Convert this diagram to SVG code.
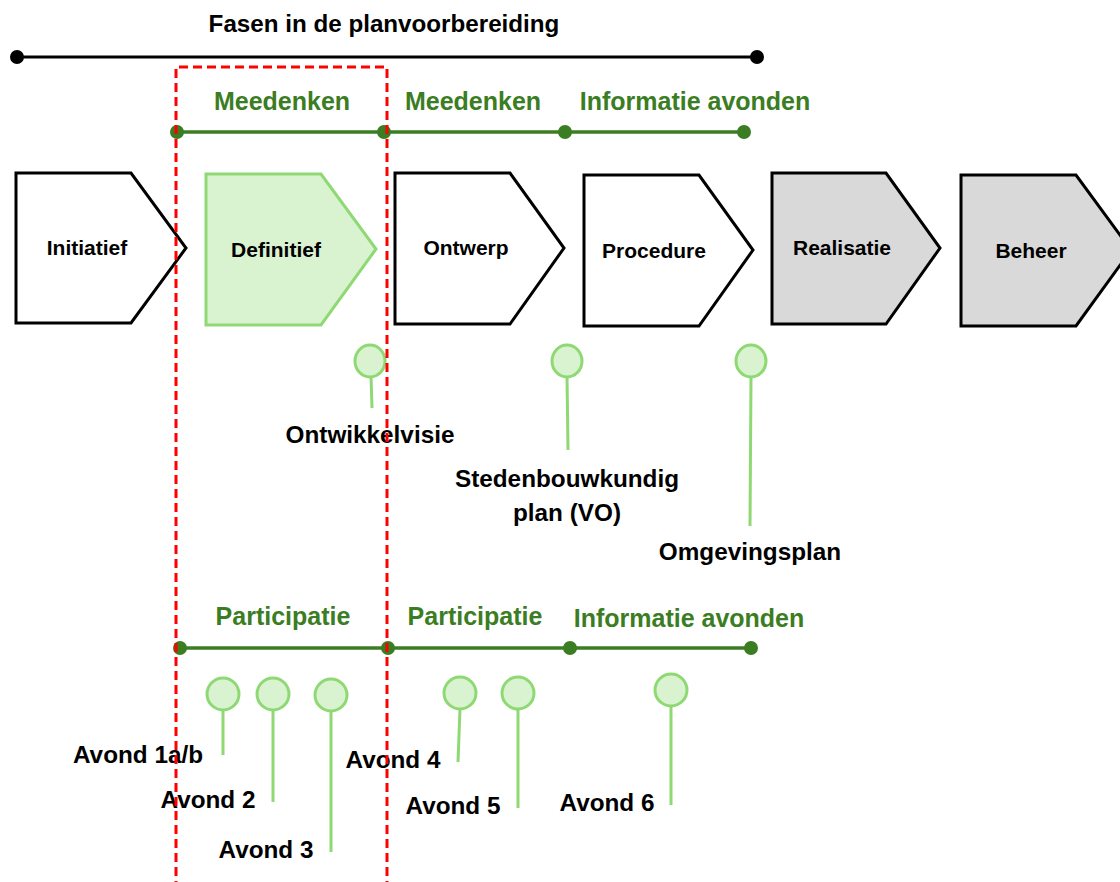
<svg xmlns="http://www.w3.org/2000/svg" width="1120" height="882" viewBox="0 0 1120 882">
<defs>
<style>
text{font-family:"Liberation Sans",Arial,sans-serif;font-weight:bold;text-anchor:middle}
.title{font-size:24.2px;fill:#000}
.glab{font-size:25px;fill:#3b7d23}
.blab{font-size:24.3px;fill:#000}
.clab{font-size:21px;fill:#000}
.chev{stroke:#000;stroke-width:3;fill:#fff;stroke-linejoin:miter}
.chev.gray{fill:#d9d9d9}
.chev.act{fill:#d9f2d0;stroke:#8ed973}
.gline{stroke:#3b7d23;stroke-width:3.5;fill:none}
.gdot{fill:#3b7d23}
.ms{fill:#d9f2d0;stroke:#8ed973;stroke-width:3}
.stem{stroke:#8ed973;stroke-width:3;fill:none}
</style>
</defs>
<rect width="1120" height="882" fill="#fff"/>

<g id="title">
<text class="title" x="384" y="32">Fasen in de planvoorbereiding</text>
<line x1="17" y1="57" x2="757" y2="57" stroke="#000" stroke-width="3"/>
<circle cx="17" cy="57" r="7" fill="#000"/>
<circle cx="757" cy="57" r="7" fill="#000"/>
</g>

<g id="connectors">
<line class="gline" x1="177" y1="132" x2="744" y2="132"/>
<circle class="gdot" cx="177" cy="132" r="7"/>
<circle class="gdot" cx="384" cy="132" r="7"/>
<circle class="gdot" cx="565" cy="132" r="7"/>
<circle class="gdot" cx="744" cy="132" r="7"/>
<line class="gline" x1="180" y1="648" x2="751" y2="648"/>
<circle class="gdot" cx="180" cy="648" r="7"/>
<circle class="gdot" cx="388" cy="648" r="7"/>
<circle class="gdot" cx="570" cy="648" r="7"/>
<circle class="gdot" cx="751" cy="648" r="7"/>
</g>

<g id="top-labels">
<text class="glab" x="282" y="110">Meedenken</text>
<text class="glab" x="473" y="110">Meedenken</text>
<text class="glab" x="695" y="110">Informatie avonden</text>
</g>

<g id="bottom-labels">
<text class="glab" x="283" y="625">Participatie</text>
<text class="glab" x="475" y="625">Participatie</text>
<text class="glab" x="689" y="627">Informatie avonden</text>
</g>

<g id="initiatief">
<polygon class="chev" points="16,173 131,173 186,248 131,323 16,323"/>
<text class="clab" x="87" y="255">Initiatief</text>
</g>
<g id="definitief">
<polygon class="chev act" points="206,174 321,174 376,249 321,325 206,325"/>
<text class="clab" x="276" y="257">Definitief</text>
</g>
<g id="ontwerp">
<polygon class="chev" points="395,173 510,173 564,248 510,324 395,324"/>
<text class="clab" x="466" y="255">Ontwerp</text>
</g>
<g id="procedure">
<polygon class="chev" points="584,175 699,175 753,250 699,326 584,326"/>
<text class="clab" x="654" y="258">Procedure</text>
</g>
<g id="realisatie">
<polygon class="chev gray" points="772,173 886,173 940,248 886,324 772,324"/>
<text class="clab" x="842" y="255">Realisatie</text>
</g>
<g id="beheer">
<polygon class="chev gray" points="961,175 1076,175 1131,250 1076,326 961,326"/>
<text class="clab" x="1031" y="258">Beheer</text>
</g>

<g id="ms-ontwikkelvisie">
<line class="stem" x1="371" y1="376" x2="372" y2="408"/>
<ellipse class="ms" cx="370" cy="361" rx="15" ry="16"/>
<text class="blab" x="370" y="443">Ontwikkelvisie</text>
</g>
<g id="ms-stedenbouw">
<line class="stem" x1="567" y1="376" x2="568" y2="450"/>
<ellipse class="ms" cx="567" cy="361" rx="15" ry="16"/>
<text class="blab" x="567" y="487">Stedenbouwkundig</text>
<text class="blab" x="567" y="521">plan (VO)</text>
</g>
<g id="ms-omgevingsplan">
<line class="stem" x1="751" y1="377" x2="750" y2="526"/>
<ellipse class="ms" cx="751" cy="361" rx="15" ry="16"/>
<text class="blab" x="750" y="560">Omgevingsplan</text>
</g>

<g id="avond1">
<line class="stem" x1="223" y1="710" x2="223" y2="755"/>
<circle class="ms" cx="223" cy="694" r="16"/>
<text class="blab" x="138" y="763">Avond 1a/b</text>
</g>
<g id="avond2">
<line class="stem" x1="273" y1="710" x2="273" y2="802"/>
<circle class="ms" cx="273" cy="694" r="16"/>
<text class="blab" x="208" y="808">Avond 2</text>
</g>
<g id="avond3">
<line class="stem" x1="331" y1="711" x2="331" y2="852"/>
<circle class="ms" cx="331" cy="695" r="16"/>
<text class="blab" x="266" y="858">Avond 3</text>
</g>
<g id="avond4">
<line class="stem" x1="460" y1="709" x2="458" y2="762"/>
<circle class="ms" cx="460" cy="693" r="16"/>
<text class="blab" x="393" y="768">Avond 4</text>
</g>
<g id="avond5">
<line class="stem" x1="518" y1="709" x2="518" y2="808"/>
<circle class="ms" cx="518" cy="693" r="16"/>
<text class="blab" x="453" y="814">Avond 5</text>
</g>
<g id="avond6">
<line class="stem" x1="671" y1="706" x2="671" y2="805"/>
<circle class="ms" cx="671" cy="690" r="16"/>
<text class="blab" x="607" y="811">Avond 6</text>
</g>

<g id="focus-frame">
<path d="M176,890 V67 H387 V890" fill="none" stroke="#ff0000" stroke-width="3" stroke-dasharray="9 5"/>
</g>
</svg>
